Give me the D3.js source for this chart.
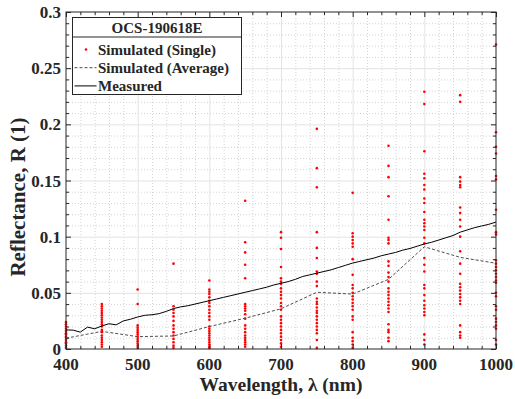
<!DOCTYPE html>
<html>
<head>
<meta charset="utf-8">
<script src="https://cdn.jsdelivr.net/npm/d3@7"></script>
<style>
  body { margin: 0; background: #ffffff; }
  svg { display: block; }
  text { font-family: "Liberation Serif", "Times New Roman", serif; font-weight: bold; fill: #262626; }
</style>
</head>
<body>
<svg id="chart" width="515" height="399"></svg>
<script>
// wavelengths where the single simulations were run
const simWavelengths = [400, 450, 500, 550, 600, 650, 700, 750, 800, 850, 900, 950, 1000];

// single simulated reflectances, one list per wavelength
const simSingle = [
  [0.001, 0.003, 0.005, 0.006, 0.008, 0.010, 0.011, 0.013, 0.014, 0.016, 0.018, 0.020, 0.022, 0.024],
  [0.040, 0.038, 0.036, 0.034, 0.032, 0.030, 0.028, 0.026, 0.024, 0.022, 0.020, 0.017, 0.015, 0.012, 0.010, 0.008, 0.006, 0.004, 0.002],
  [0.053, 0.040, 0.021, 0.019, 0.017, 0.015, 0.013, 0.011, 0.009, 0.007, 0.005, 0.003, 0.001],
  [0.076, 0.038, 0.035, 0.032, 0.029, 0.025, 0.021, 0.018, 0.015, 0.012, 0.009, 0.006, 0.003, 0.001],
  [0.061, 0.053, 0.051, 0.049, 0.046, 0.043, 0.041, 0.038, 0.035, 0.032, 0.029, 0.026, 0.020, 0.018, 0.016, 0.014, 0.012, 0.010, 0.008, 0.006, 0.004, 0.002, 0.001],
  [0.132, 0.095, 0.086, 0.075, 0.063, 0.040, 0.038, 0.036, 0.034, 0.031, 0.027, 0.021, 0.018, 0.015, 0.012, 0.010, 0.008, 0.006, 0.004, 0.002],
  [0.104, 0.099, 0.089, 0.073, 0.063, 0.060, 0.058, 0.054, 0.051, 0.048, 0.045, 0.041, 0.038, 0.035, 0.029, 0.026, 0.023, 0.020, 0.017, 0.014, 0.011, 0.008, 0.005, 0.002],
  [0.196, 0.161, 0.144, 0.104, 0.090, 0.081, 0.069, 0.067, 0.060, 0.056, 0.045, 0.042, 0.040, 0.037, 0.034, 0.032, 0.029, 0.026, 0.023, 0.020, 0.017, 0.014, 0.008, 0.001],
  [0.139, 0.103, 0.100, 0.097, 0.094, 0.091, 0.080, 0.066, 0.057, 0.054, 0.050, 0.047, 0.044, 0.041, 0.038, 0.035, 0.029, 0.026, 0.015, 0.010, 0.007, 0.004, 0.001],
  [0.181, 0.163, 0.153, 0.136, 0.115, 0.099, 0.097, 0.094, 0.078, 0.074, 0.068, 0.064, 0.060, 0.054, 0.051, 0.048, 0.045, 0.042, 0.039, 0.036, 0.033, 0.022, 0.017, 0.015, 0.010, 0.007],
  [0.229, 0.218, 0.176, 0.156, 0.152, 0.146, 0.142, 0.134, 0.130, 0.122, 0.115, 0.112, 0.109, 0.106, 0.099, 0.094, 0.081, 0.075, 0.069, 0.057, 0.054, 0.048, 0.043, 0.039, 0.036, 0.033, 0.030, 0.013, 0.008, 0.004],
  [0.226, 0.220, 0.153, 0.149, 0.146, 0.144, 0.126, 0.121, 0.115, 0.109, 0.100, 0.087, 0.076, 0.067, 0.058, 0.055, 0.052, 0.049, 0.046, 0.043, 0.040, 0.021, 0.015, 0.012, 0.010],
  [0.271, 0.193, 0.180, 0.174, 0.154, 0.151, 0.124, 0.104, 0.102, 0.079, 0.076, 0.073, 0.070, 0.067, 0.064, 0.061, 0.059, 0.050, 0.047, 0.038, 0.035, 0.027, 0.024, 0.021, 0.018, 0.008, 0.004]
];

// average of the single simulations
const simAverage = [0.0096, 0.0157, 0.011, 0.0116, 0.020, 0.0274, 0.0358, 0.0505, 0.0489, 0.062, 0.091, 0.0816, 0.0763];

// measured spectrum
const measWavelengths = d3.range(400, 1001, 10);
const measValues = [
  0.017, 0.0168, 0.015, 0.0195, 0.018, 0.0205, 0.0225, 0.0215, 0.025, 0.0265,
  0.0285, 0.030, 0.0305, 0.0315, 0.0335, 0.036, 0.0375, 0.0385, 0.040, 0.0415,
  0.043, 0.0445, 0.046, 0.0475, 0.049, 0.0505, 0.052, 0.0535, 0.055, 0.057,
  0.0585, 0.060, 0.062, 0.0645, 0.066, 0.0675, 0.069, 0.0705, 0.0725, 0.0745,
  0.0765, 0.078, 0.0795, 0.081, 0.083, 0.0845, 0.086, 0.088, 0.0895, 0.0915,
  0.0935, 0.095, 0.097, 0.099, 0.101, 0.104, 0.106, 0.108, 0.1095, 0.111,
  0.113
];

const xTicks = [400, 500, 600, 700, 800, 900, 1000];
const yTicks = [0, 0.05, 0.1, 0.15, 0.2, 0.25, 0.3];
const yTickLabels = ['0', '0.05', '0.1', '0.15', '0.2', '0.25', '0.3'];
const legendTitle = 'OCS-190618E';
const legendLabels = ['Simulated (Single)', 'Simulated (Average)', 'Measured'];

const svg = d3.select('#chart');
const margin = { left: 66, right: 19, top: 12, bottom: 50 };
const innerWidth = 515 - margin.left - margin.right;
const innerHeight = 399 - margin.top - margin.bottom;

const xScale = d3.scaleLinear().domain([400, 1000]).range([0, innerWidth]);
const yScale = d3.scaleLinear().domain([0, 0.3]).range([innerHeight, 0]);

const g = svg.append('g').attr('transform', `translate(${margin.left}, ${margin.top})`);
const axisColor = '#262626';

// minor grid (dotted) and major grid (solid, light) drawn with axes
const xMinorGrid = d3.range(420, 1000, 20).filter(d => d % 100 !== 0);
const yMinorGrid = d3.range(1, 30).filter(d => d % 5 !== 0).map(d => d / 100);

function gridLayer(axis, cls, color, dash) {
  const sel = g.append('g').attr('class', cls).call(axis);
  sel.select('.domain').remove();
  sel.selectAll('text').remove();
  sel.selectAll('.tick line').attr('stroke', color).attr('stroke-dasharray', dash);
  return sel;
}
gridLayer(d3.axisTop(xScale).tickValues(xMinorGrid).tickSize(innerHeight), 'xMinor', '#d4d4d4', '1,2')
  .attr('transform', `translate(0, ${innerHeight})`);
gridLayer(d3.axisRight(yScale).tickValues(yMinorGrid).tickSize(innerWidth), 'yMinor', '#d4d4d4', '1,2');
gridLayer(d3.axisTop(xScale).tickValues(xTicks.slice(1, -1)).tickSize(innerHeight), 'xMajor', '#e3e3e3', null)
  .attr('transform', `translate(0, ${innerHeight})`);
gridLayer(d3.axisRight(yScale).tickValues(yTicks.slice(1, -1)).tickSize(innerWidth), 'yMajor', '#e3e3e3', null);

// single simulations
const singles = simWavelengths.flatMap((w, i) => simSingle[i].map(v => ({ w, v })));
g.append('g').selectAll('circle')
  .data(singles)
  .join('circle')
  .attr('cx', d => xScale(d.w))
  .attr('cy', d => yScale(d.v))
  .attr('r', 1.3)
  .attr('fill', '#ff0000');

// average line
const avgLine = d3.line().x((d, i) => xScale(simWavelengths[i])).y(d => yScale(d));
g.append('path')
  .attr('d', avgLine(simAverage))
  .attr('fill', 'none')
  .attr('stroke', '#4d4d4d')
  .attr('stroke-width', 1)
  .attr('stroke-dasharray', '3,2');

// measured line
const measLine = d3.line().x((d, i) => xScale(measWavelengths[i])).y(d => yScale(d));
g.append('path')
  .attr('d', measLine(measValues))
  .attr('fill', 'none')
  .attr('stroke', '#000000')
  .attr('stroke-width', 1);

// inward ticks on all four sides (minor every 20 nm / 0.01, major every 100 nm / 0.05)
const xMinor = d3.range(400, 1001, 20).filter(d => d % 100 !== 0);
const yMinor = d3.range(0, 31).filter(d => d % 5 !== 0).map(d => d / 100);
function tickLayer(axis, tx, ty) {
  const sel = g.append('g').attr('transform', `translate(${tx}, ${ty})`).call(axis);
  sel.select('.domain').remove();
  sel.selectAll('text').remove();
  sel.selectAll('.tick line').attr('stroke', axisColor);
}
tickLayer(d3.axisBottom(xScale).tickValues(xMinor).tickSize(-3), 0, innerHeight);
tickLayer(d3.axisBottom(xScale).tickValues(xTicks).tickSize(-5), 0, innerHeight);
tickLayer(d3.axisTop(xScale).tickValues(xMinor).tickSize(-3), 0, 0);
tickLayer(d3.axisTop(xScale).tickValues(xTicks).tickSize(-5), 0, 0);
tickLayer(d3.axisLeft(yScale).tickValues(yMinor).tickSize(-3), 0, 0);
tickLayer(d3.axisLeft(yScale).tickValues(yTicks).tickSize(-5), 0, 0);
tickLayer(d3.axisRight(yScale).tickValues(yMinor).tickSize(-3), innerWidth, 0);
tickLayer(d3.axisRight(yScale).tickValues(yTicks).tickSize(-5), innerWidth, 0);

// tick labels
svg.append('g').selectAll('text')
  .data(xTicks)
  .join('text')
  .attr('x', d => margin.left + xScale(d))
  .attr('y', margin.top + innerHeight + 21)
  .attr('text-anchor', 'middle')
  .attr('font-size', 17)
  .text(d => d);
svg.append('g').selectAll('text')
  .data(yTicks)
  .join('text')
  .attr('x', margin.left - 5)
  .attr('y', d => margin.top + yScale(d) + 6)
  .attr('text-anchor', 'end')
  .attr('font-size', 17)
  .text((d, i) => yTickLabels[i]);

// box
g.append('rect')
  .attr('x', 0).attr('y', 0)
  .attr('width', innerWidth).attr('height', innerHeight)
  .attr('fill', 'none').attr('stroke', axisColor).attr('stroke-width', 1);

// axis titles
svg.append('text')
  .attr('x', margin.left + innerWidth / 2)
  .attr('y', 391)
  .attr('text-anchor', 'middle')
  .attr('font-size', 19.5)
  .text('Wavelength, λ (nm)');

svg.append('text')
  .attr('transform', 'translate(25, 197) rotate(-90)')
  .attr('text-anchor', 'middle')
  .attr('font-size', 21)
  .text('Reflectance, R (1)');

// legend
const leg = svg.append('g').attr('transform', 'translate(72.5, 17.5)');
const legW = 169, legH = 77;
leg.append('rect').attr('width', legW).attr('height', legH)
  .attr('fill', '#ffffff').attr('stroke', axisColor).attr('stroke-width', 1);
leg.append('line').attr('x1', 0).attr('x2', legW).attr('y1', 19.5).attr('y2', 19.5)
  .attr('stroke', axisColor);
leg.append('text')
  .attr('x', legW / 2).attr('y', 15.5)
  .attr('text-anchor', 'middle')
  .attr('font-size', 15)
  .text(legendTitle);

const rows = leg.selectAll('g.row').data(legendLabels).join('g')
  .attr('class', 'row')
  .attr('transform', (d, i) => `translate(0, ${32 + i * 18.2})`);
rows.append('text')
  .attr('x', 25.5).attr('y', 5)
  .attr('font-size', 15)
  .text(d => d);
rows.filter((d, i) => i === 0).append('circle')
  .attr('cx', 13.5).attr('cy', 0).attr('r', 1.3).attr('fill', '#ff0000');
rows.filter((d, i) => i === 1).append('line')
  .attr('x1', 2).attr('x2', 24).attr('y1', 0).attr('y2', 0)
  .attr('stroke', '#4d4d4d').attr('stroke-dasharray', '3,2');
rows.filter((d, i) => i === 2).append('line')
  .attr('x1', 2).attr('x2', 24).attr('y1', 0).attr('y2', 0)
  .attr('stroke', '#000000');
</script>
</body>
</html>
